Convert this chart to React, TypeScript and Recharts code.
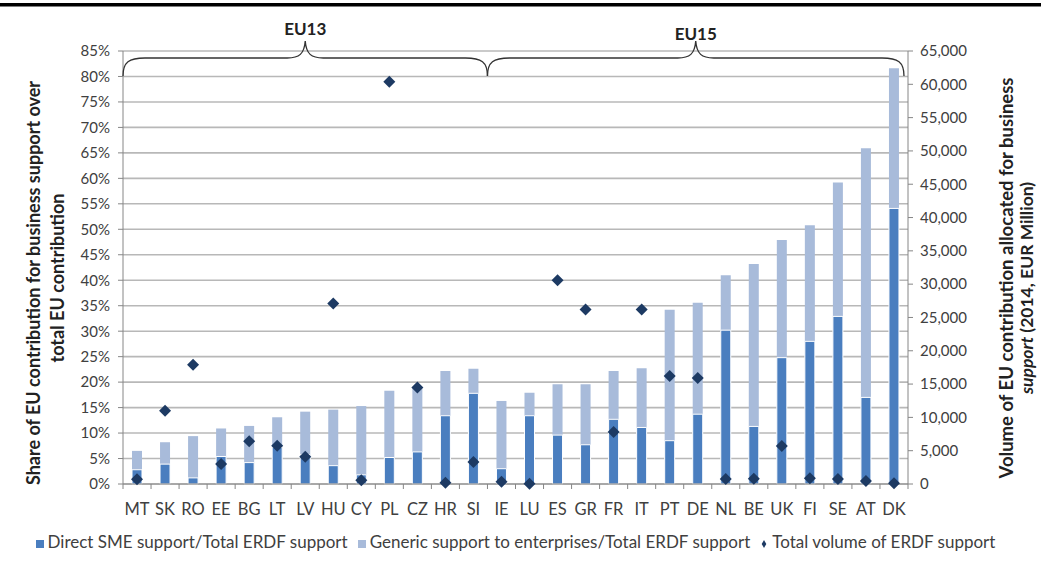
import React from "react";
import {
  ComposedChart,
  Bar,
  Scatter,
  XAxis,
  YAxis,
  CartesianGrid,
  Legend,
} from "recharts";

// country codes, EU13 first then EU15
const countries = [
  "MT", "SK", "RO", "EE", "BG", "LT", "LV", "HU", "CY", "PL", "CZ", "HR", "SI",
  "IE", "LU", "ES", "GR", "FR", "IT", "PT", "DE", "NL", "BE", "UK", "FI", "SE", "AT", "DK",
];

// % of total ERDF support
const directSme = [
  2.8, 3.9, 1.2, 5.4, 4.2, 7.2, 5.8, 3.6, 1.8, 5.2, 6.3, 13.4, 17.8,
  3.0, 13.4, 9.6, 7.7, 12.7, 11.1, 8.5, 13.7, 30.2, 11.3, 24.8, 28.0, 32.9, 17.0, 54.1,
];
const genericSupport = [
  6.5, 8.2, 9.4, 10.9, 11.4, 13.1, 14.2, 14.6, 15.3, 18.3, 19.0, 22.2, 22.6,
  16.3, 17.9, 19.6, 19.6, 22.2, 22.7, 34.2, 35.6, 41.0, 43.2, 47.9, 50.8, 59.2, 65.9, 81.6,
];

// EUR million (right axis)
const totalVolume = [
  700, 11000, 17900, 3000, 6400, 5750, 4100, 27100, 550, 60400, 14500, 200, 3300,
  350, 50, 30600, 26200, 7800, 26200, 16200, 15900, 750, 800, 5700, 850, 750, 450, 100,
];

const leftTicks = [0, 5, 10, 15, 20, 25, 30, 35, 40, 45, 50, 55, 60, 65, 70, 75, 80, 85];
const rightTicks = [0, 5000, 10000, 15000, 20000, 25000, 30000, 35000, 40000, 45000, 50000, 55000, 60000, 65000];

const groups = [
  { label: "EU13", from: 0, to: 13, labelY: 28 },
  { label: "EU15", from: 13, to: 28, labelY: 33 },
];

const data = countries.map((c, i) => ({
  country: c,
  direct: directSme[i],
  generic: genericSupport[i],
  volume: totalVolume[i],
}));

const W = 1041;
const H = 562;
const PLOT = { left: 123, right: 908, top: 51, bottom: 484 };
const BAND = (PLOT.right - PLOT.left) / countries.length;
const AXIS_GREY = "#868686";
const TEXT = "#404040";

const CountryTick = (props: any) => {
  const { x, payload, index } = props;
  const last = index === countries.length - 1;
  return (
    <g>
      <line x1={x - BAND / 2} x2={x - BAND / 2} y1={PLOT.bottom} y2={PLOT.bottom + 5} stroke={AXIS_GREY} />
      {last && <line x1={x + BAND / 2} x2={x + BAND / 2} y1={PLOT.bottom} y2={PLOT.bottom + 5} stroke={AXIS_GREY} />}
      <text x={x} y={PLOT.bottom + 31} textAnchor="middle" fontSize={16.5} fill={TEXT}>
        {payload.value}
      </text>
    </g>
  );
};

const Diamond = (props: any) => {
  const { cx, cy, fill } = props;
  const r = 6;
  return <path d={`M${cx} ${cy - r} L${cx + r} ${cy} L${cx} ${cy + r} L${cx - r} ${cy} Z`} fill={fill} />;
};

function bracePath(x0: number, x1: number) {
  const m = (x0 + x1) / 2;
  const yb = 76, yl = 58, yp = 41;
  return `M${x0} ${yb} C${x0} ${yl + 4} ${x0 + 6} ${yl} ${x0 + 22} ${yl} L${m - 18} ${yl} C${m - 6} ${yl} ${m - 1} ${yl - 4} ${m} ${yp}` +
    ` C${m + 1} ${yl - 4} ${m + 6} ${yl} ${m + 18} ${yl} L${x1 - 22} ${yl} C${x1 - 6} ${yl} ${x1} ${yl + 4} ${x1} ${yb}`;
}

export default function App() {
  return (
    <div style={{ position: "absolute", left: 0, top: 0, width: W, height: H, fontFamily: "Lato, sans-serif", background: "#fff" }}>
      <ComposedChart
        width={W}
        height={H}
        data={data}
        margin={{ top: PLOT.top, right: W - PLOT.right - 62, bottom: H - PLOT.bottom - 32, left: PLOT.left - 70 }}
        barGap={-10}
      >
        <CartesianGrid yAxisId="left" vertical={false} stroke="#b8b8b8" strokeWidth={1.6} />
        <XAxis
          dataKey="country"
          height={32}
          interval={0}
          axisLine={{ stroke: AXIS_GREY }}
          tickLine={false}
          tick={<CountryTick />}
        />
        <YAxis
          yAxisId="left"
          width={70}
          domain={[0, 85]}
          ticks={leftTicks}
          interval={0}
          tickFormatter={(v) => `${v}%`}
          tick={{ fontSize: 15, fill: TEXT }}
          axisLine={{ stroke: AXIS_GREY }}
          tickLine={{ stroke: AXIS_GREY }}
          tickSize={5}
          tickMargin={8}
        />
        <YAxis
          yAxisId="right"
          orientation="right"
          width={62}
          domain={[0, 65000]}
          ticks={rightTicks}
          interval={0}
          tickFormatter={(v) => v.toLocaleString("en-US")}
          tick={{ fontSize: 15, fill: TEXT }}
          axisLine={{ stroke: AXIS_GREY }}
          tickLine={{ stroke: AXIS_GREY }}
          tickSize={5}
          tickMargin={7}
        />
        <Bar
          yAxisId="left"
          dataKey="generic"
          name="Generic support to enterprises/Total ERDF support"
          fill="#a8bbda"
          barSize={10}
          legendType="square"
          isAnimationActive={false}
        />
        <Bar
          yAxisId="left"
          dataKey="direct"
          name="Direct SME support/Total ERDF support"
          fill="#4a7ebf"
          stroke="#ffffff"
          strokeWidth={1}
          barSize={10}
          legendType="square"
          isAnimationActive={false}
        />
        <Scatter
          yAxisId="right"
          dataKey="volume"
          name="Total volume of ERDF support"
          fill="#1d3a63"
          shape={<Diamond />}
          legendType="diamond"
          isAnimationActive={false}
        />
        <Legend
          verticalAlign="middle"
          align="center"
          iconSize={8}
          wrapperStyle={{ top: 531, left: 0, width: W, fontSize: 17 }}
          formatter={(v) => <span style={{ color: TEXT }}>{v}</span>}
        />
      </ComposedChart>

      {/* overlay: top rule, EU13/EU15 braces, axis titles */}
      <svg width={W} height={H} style={{ position: "absolute", left: 0, top: 0, pointerEvents: "none" }}>
        <rect x={0} y={3} width={W} height={3.5} fill="#000" />
        {groups.map((g) => {
          const x0 = PLOT.left + g.from * BAND;
          const x1 = Math.min(PLOT.left + g.to * BAND, PLOT.right - 4);
          return (
            <g key={g.label}>
              <path d={bracePath(x0, x1)} fill="none" stroke="#333" strokeWidth={1.3} />
              <text x={(x0 + x1) / 2} y={g.labelY} textAnchor="middle" dominantBaseline="central" fontSize={17} fontWeight="bold" fill="#222">
                {g.label}
              </text>
            </g>
          );
        })}
        <g transform="translate(33 283) rotate(-90)" fontSize={18} fontWeight="bold" fill="#222" textAnchor="middle">
          <text x={0} y={0} dominantBaseline="central">Share of EU contribution for business support over</text>
          <text x={5} y={24} dominantBaseline="central">total EU contribution</text>
        </g>
        <g transform="translate(1006 278) rotate(-90)" fontSize={18.5} fontWeight="bold" fill="#222" textAnchor="middle">
          <text x={0} y={0} dominantBaseline="central">Volume of EU contribution allocated for business</text>
          <text x={-10} y={20} dominantBaseline="central" fontSize={17.5}>
            <tspan fontStyle="italic">support</tspan> (2014, EUR Million)
          </text>
        </g>
      </svg>
    </div>
  );
}
